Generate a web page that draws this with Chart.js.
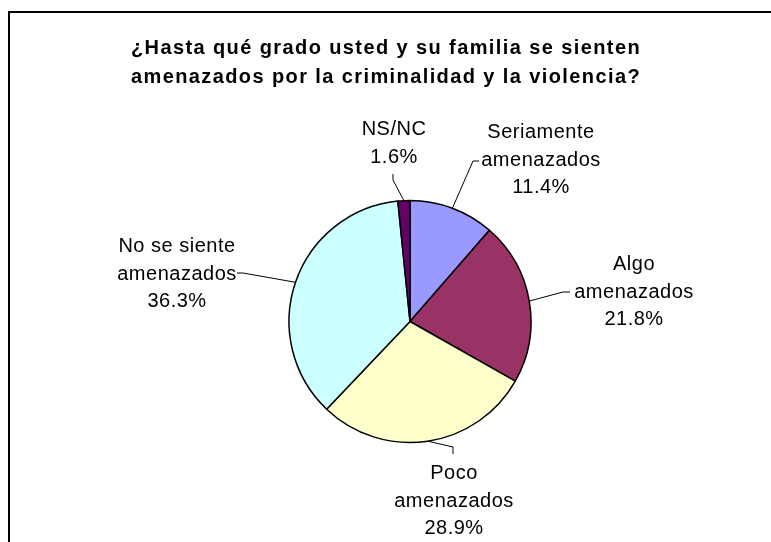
<!DOCTYPE html>
<html>
<head>
<meta charset="utf-8">
<script src="https://cdn.jsdelivr.net/npm/chart.js@4.4.1/dist/chart.umd.min.js"></script>
<style>
  html, body { margin: 0; padding: 0; background: #fff; }
  canvas { display: block; }
</style>
</head>
<body>
<canvas id="pieChart" width="771" height="542"></canvas>
<script>
const titleLines = [
    '¿Hasta qué grado usted y su familia se sienten',
    'amenazados por la criminalidad y la violencia?'
];
const categories = [
    ['Seriamente', 'amenazados'],
    ['Algo', 'amenazados'],
    ['Poco', 'amenazados'],
    ['No se siente', 'amenazados'],
    ['NS/NC']
];
const percentages = [11.4, 21.8, 28.9, 36.3, 1.6];
const sliceColors = ['#9999FF', '#993366', '#FFFFCC', '#CCFFFF', '#660066'];

// where each label block sits and how its leader line bends
const labelSpots = [
    { x: 541, y: 138, elbow: [473, 161], end: [479, 161] },
    { x: 634, y: 270, elbow: [563, 292], end: [570, 292] },
    { x: 454, y: 479, elbow: [453, 447], end: [453, 454] },
    { x: 177, y: 252, elbow: [243, 273], end: [237, 273] },
    { x: 394, y: 135, elbow: [393, 180], end: [393, 174] }
];

const labelPlugin = {
    id: 'sliceLabels',
    afterDraw(chart) {
        const ctx = chart.ctx;
        ctx.save();

        // frame
        ctx.strokeStyle = '#000';
        ctx.lineWidth = 2;
        ctx.strokeRect(9, 12, 800, 600);

        // title
        ctx.fillStyle = '#000';
        ctx.textAlign = 'center';
        ctx.textBaseline = 'alphabetic';
        ctx.font = 'bold 20px "Liberation Sans", Arial, sans-serif';
        ctx.letterSpacing = '1.4px';
        titleLines.forEach((line, i) => ctx.fillText(line, 386, 54 + i * 28.5));

        // slice labels with leader lines
        const meta = chart.getDatasetMeta(0);
        ctx.font = '20px "Liberation Sans", Arial, sans-serif';
        ctx.letterSpacing = '0.5px';
        meta.data.forEach((arc, i) => {
            const { x, y, startAngle, endAngle, outerRadius } =
                arc.getProps(['x', 'y', 'startAngle', 'endAngle', 'outerRadius'], true);
            const mid = (startAngle + endAngle) / 2;
            const spot = labelSpots[i];

            ctx.beginPath();
            ctx.lineWidth = 1;
            ctx.moveTo(x + Math.cos(mid) * outerRadius, y + Math.sin(mid) * outerRadius);
            ctx.lineTo(spot.elbow[0], spot.elbow[1]);
            ctx.lineTo(spot.end[0], spot.end[1]);
            ctx.stroke();

            const lines = [...categories[i], percentages[i].toFixed(1) + '%'];
            lines.forEach((line, j) => ctx.fillText(line, spot.x, spot.y + j * 27.5));
        });
        ctx.restore();
    }
};

const pieChart = new Chart(document.getElementById('pieChart').getContext('2d'), {
    type: 'pie',
    data: {
        labels: categories.map(c => c.join(' ')),
        datasets: [{
            data: percentages,
            backgroundColor: sliceColors,
            borderColor: '#000',
            borderWidth: 1.5
        }]
    },
    options: {
        responsive: false,
        animation: false,
        radius: 121,
        layout: { padding: { left: 49, top: 101, right: 0, bottom: 0 } },
        plugins: {
            legend: { display: false },
            tooltip: { enabled: false }
        }
    },
    plugins: [labelPlugin]
});
</script>
</body>
</html>
